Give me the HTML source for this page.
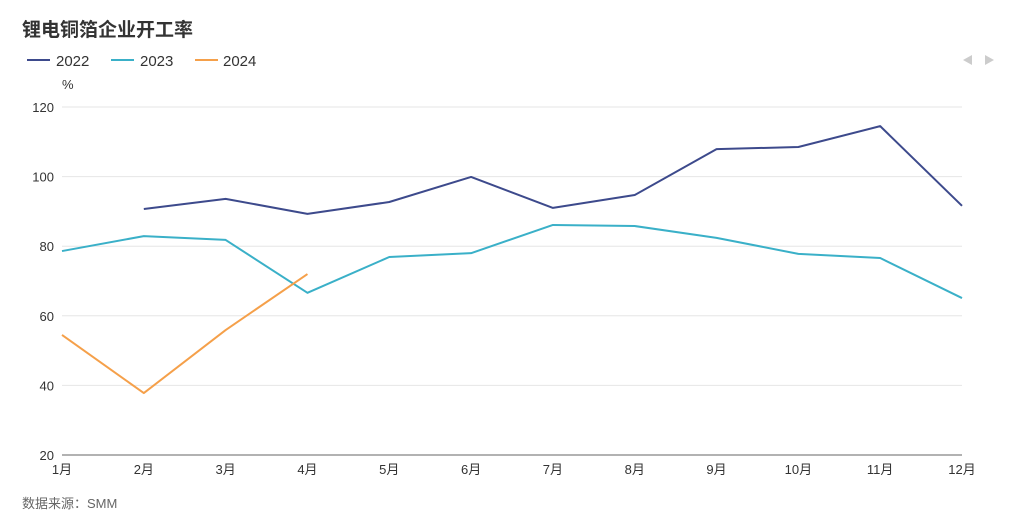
<!DOCTYPE html>
<html><head><meta charset="utf-8"><style>
body{margin:0;width:1024px;height:526px;background:#fff;font-family:"Liberation Sans","Noto Sans CJK SC",sans-serif;overflow:hidden}
</style></head><body>
<svg id="chart" width="1024" height="526" xmlns="http://www.w3.org/2000/svg" font-family="Liberation Sans, Noto Sans CJK SC, sans-serif">
<text x="22" y="36" font-size="19" font-weight="bold" fill="#333">锂电铜箔企业开工率</text>
<g>
<g><line x1="27" y1="60" x2="50" y2="60" stroke="#3d4a8c" stroke-width="2"/><text x="56" y="66" font-size="15" fill="#333">2022</text></g>
<g><line x1="111" y1="60" x2="134" y2="60" stroke="#3ab0c8" stroke-width="2"/><text x="140" y="66" font-size="15" fill="#333">2023</text></g>
<g><line x1="195" y1="60" x2="218" y2="60" stroke="#f5a04a" stroke-width="2"/><text x="223" y="66" font-size="15" fill="#333">2024</text></g>
</g>
<polygon points="972,55 972,65 963,60" fill="#ccc"/>
<polygon points="985,55 985,65 994,60" fill="#ccc"/>
<text x="62" y="89" font-size="13" fill="#333">%</text>
<g id="grid"></g><g id="series"></g>
<text x="22" y="508" font-size="13" fill="#666">数据来源：SMM</text>
</svg>
<script>
const months=["1月","2月","3月","4月","5月","6月","7月","8月","9月","10月","11月","12月"];
const yTicks=[20,40,60,80,100,120];
const s2022=[null,90.7,93.6,89.3,92.7,99.9,91,94.7,107.9,108.5,114.5,91.6];
const s2023=[78.6,82.9,81.8,66.6,76.9,78,86.1,85.8,82.4,77.8,76.6,65.1];
const s2024=[54.5,37.8,55.9,72];
const NS="http://www.w3.org/2000/svg";
const x=i=>62+i*(900/11);
const y=v=>455-(v-20)*3.48;
const g=document.getElementById('grid'),sg=document.getElementById('series');
function mk(t,a,p){const e=document.createElementNS(NS,t);for(const k in a)e.setAttribute(k,a[k]);p.appendChild(e);return e;}
yTicks.forEach(v=>{
 const l=mk('line',{x1:62,x2:962,y1:y(v),y2:y(v),stroke:v===20?'#666':'#e6e6e6','stroke-width':1},g);
 
 
 const t=mk('text',{x:54,y:y(v)+5,'font-size':13,fill:'#333','text-anchor':'end'},g);t.textContent=v;
 
 
});
months.forEach((m,i)=>{
 const t=mk('text',{x:x(i),y:474,'font-size':13,fill:'#333','text-anchor':'middle'},g);t.textContent=m;
 
 
});
[[s2022,'#3d4a8c','2022'],[s2023,'#3ab0c8','2023'],[s2024,'#f5a04a','2024']].forEach(([d,c,n])=>{
 const pts=d.map((v,i)=>v==null?null:x(i)+','+y(v)).filter(p=>p);
 const p=mk('polyline',{points:pts.join(' '),fill:'none',stroke:c,'stroke-width':2,'stroke-linejoin':'round'},sg);
 
 
});
</script>
</body></html>
